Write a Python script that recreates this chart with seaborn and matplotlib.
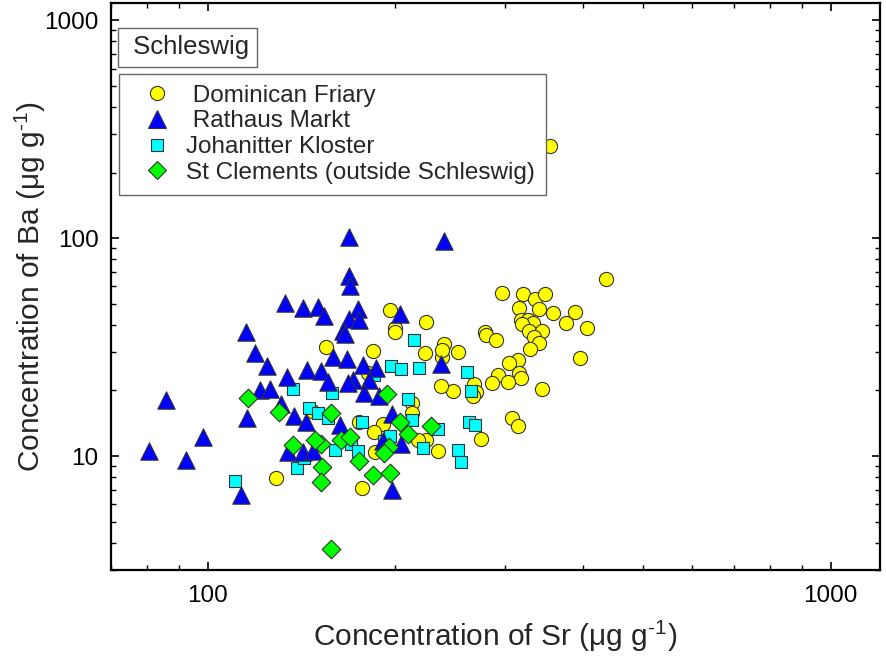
import pandas as pd
import matplotlib
matplotlib.use('Agg')
import matplotlib.pyplot as plt
import seaborn as sns
from matplotlib.lines import Line2D
from matplotlib.ticker import FuncFormatter, NullFormatter, LogLocator

# --- Setup ---
sns.set_style('ticks')
plt.rcParams['font.family'] = ['Liberation Sans', 'DejaVu Sans']
plt.rcParams['mathtext.fontset'] = 'custom'
plt.rcParams['mathtext.rm'] = 'Liberation Sans'

# --- Data (Sr and Ba in ug/g) ---
friary_sr = [354, 436, 297, 321, 336, 348, 340, 316, 358, 389,
             376, 406, 318, 327, 333, 320, 328, 344, 334, 341,
             329, 279, 280, 290, 396, 315, 305, 316, 318, 292,
             286, 303, 344, 308, 315, 275, 252, 240, 238, 248,
             237, 268, 270, 267, 196, 224, 200, 200, 238, 223,
             155, 184, 181, 234, 224, 213, 213, 191, 185, 175,
             218, 186, 177, 129, 147]
friary_ba = [266, 64.8, 56.3, 55.3, 52.8, 55.3, 47.5, 48.0, 45.1, 45.6,
             41.0, 38.8, 42.2, 42.2, 40.7, 40.3, 37.5, 37.5, 35.0, 32.9,
             31.1, 36.9, 35.8, 34.0, 28.1, 27.6, 26.7, 24.1, 22.7, 23.5,
             21.6, 21.9, 20.4, 14.9, 13.8, 12.0, 30.0, 32.6, 28.6, 19.9,
             21.0, 21.3, 19.6, 18.9, 46.9, 41.3, 38.8, 37.2, 30.7, 29.6,
             31.8, 30.2, 24.0, 10.6, 11.9, 17.5, 15.7, 14.0, 12.9, 14.3,
             11.9, 10.4, 7.1, 7.9, 16.1]

rathaus_sr = [80.5, 85.8, 92.2, 98.3, 115.8, 113.2, 115.4, 119, 124.6, 121.2,
              126, 132.9, 142.3, 150.6, 154, 134, 168.9, 239.6, 168.9, 169.5,
              174.1, 168.9, 175.2, 165, 166, 203.6, 159.2, 167.3, 177.3, 186.4,
              237.4, 144.6, 152.1, 156.3, 171, 168.3, 181.3, 178.4, 188.6, 131.2,
              137.9, 143.9, 163.4, 198, 134.4, 142.3, 147.4, 191.4, 204.5, 198]
rathaus_ba = [10.5, 18.0, 9.6, 12.2, 15.0, 6.6, 37, 29.8, 25.9, 20.1,
              20.3, 50.3, 48, 48.5, 43.7, 23.1, 100.7, 97, 67, 60.4,
              47.2, 42.5, 42.1, 37.5, 36.3, 44.8, 28.6, 27.8, 26.1, 25.4,
              26.4, 24.9, 24.6, 21.9, 22.3, 21.6, 22.3, 19.4, 18.9, 17.3,
              15.2, 14.4, 13.9, 15.6, 10.4, 10.4, 10.5, 11.7, 11.3, 7.0]

kloster_sr = [110.5, 214.6, 197.1, 204.6, 218.6, 185.2, 137, 158.6, 209.4, 145.4,
              150.6, 156.3, 212.5, 177, 192, 196, 234.7, 221.7, 160.3, 170,
              174.6, 139, 143, 260.5, 265.2, 262.4, 269, 252.7, 255]
kloster_ba = [7.7, 34, 25.9, 25, 25.4, 23.5, 20.4, 19.4, 18.2, 16.6,
              15.7, 14.9, 14.7, 14.3, 11.7, 12.3, 13.3, 10.9, 10.7, 11.4,
              10.6, 8.8, 9.8, 24.4, 19.9, 14.4, 13.9, 10.7, 9.4]

clements_sr = [116, 130, 137, 158.1, 194.3, 164, 152.1, 148.5, 204, 209.4,
               228.3, 195.7, 192.2, 175.2, 152.8, 184.3, 196.5, 152.1, 158.1, 169.5]
clements_ba = [18.4, 15.9, 11.2, 15.8, 19.2, 11.9, 11.3, 11.9, 14.3, 12.6,
               13.7, 11.0, 10.3, 9.5, 8.9, 8.2, 8.4, 7.6, 3.73, 12.2]

site_names = [' Dominican Friary', ' Rathaus Markt', 'Johanitter Kloster',
              'St Clements (outside Schleswig)']

# --- Build one long table ---
parts = [
    pd.DataFrame({'sr': friary_sr, 'ba': friary_ba, 'site': site_names[0]}),
    pd.DataFrame({'sr': rathaus_sr, 'ba': rathaus_ba, 'site': site_names[1]}),
    pd.DataFrame({'sr': kloster_sr, 'ba': kloster_ba, 'site': site_names[2]}),
    pd.DataFrame({'sr': clements_sr, 'ba': clements_ba, 'site': site_names[3]}),
]
df = pd.concat(parts, ignore_index=True)

# marker style per site: (marker, colour, size in pt)
styles = {
    site_names[0]: ('o', '#FFFF00', 10.2),
    site_names[1]: ('^', '#0000FF', 12.5),
    site_names[2]: ('s', '#00FFFF', 9.0),
    site_names[3]: ('D', '#00FF00', 9.5),
}
edge = '#333333'

fig = plt.figure(figsize=(8.86, 6.63), dpi=100)
ax = fig.add_axes([0.1253, 0.1403, 0.8679, 0.8552])

# drawing order: circles at the back, then squares, triangles, diamonds
for name in [site_names[0], site_names[2], site_names[1], site_names[3]]:
    m, c, ms = styles[name]
    sub = df[df['site'] == name]
    sns.scatterplot(data=sub, x='sr', y='ba', marker=m, color=c, s=ms ** 2,
                    edgecolor=edge, linewidth=0.8, ax=ax, legend=False, zorder=3)

ax.set_xscale('log')
ax.set_yscale('log')
ax.set_xlim(70, 1200)
ax.set_ylim(3, 1200)

fmt = FuncFormatter(lambda v, p: f'{v:g}')
for axis in (ax.xaxis, ax.yaxis):
    axis.set_major_locator(LogLocator(base=10))
    axis.set_minor_locator(LogLocator(base=10, subs=range(2, 10)))
    axis.set_major_formatter(fmt)
    axis.set_minor_formatter(NullFormatter())

ax.tick_params(which='both', direction='in', top=True, right=True,
               labelsize=17.5, colors='black', pad=9)
ax.tick_params(axis='x', which='major', pad=11)
ax.tick_params(which='major', length=6, width=1.2)
ax.tick_params(which='minor', length=3.5, width=1.0)
for sp in ax.spines.values():
    sp.set_linewidth(1.6)
    sp.set_color('black')

ax.set_xlabel('Concentration of Sr (μg g$^{\\mathregular{\u2010}1}$)', fontsize=21.5, labelpad=8)
ax.set_ylabel('Concentration of Ba (μg g$^{\\mathregular{\u2010}1}$)', fontsize=21.5, labelpad=-3)

# --- Site title box ---
ax.text(0.0196, 0.922, ' Schleswig', transform=ax.transAxes, fontsize=18.5,
        va='center', ha='left', zorder=5,
        bbox=dict(boxstyle='square,pad=0.3', facecolor='white',
                  edgecolor='#666666', linewidth=1.0))

# --- Legend in the reference order ---
handles = []
for name in site_names:
    m, c, ms = styles[name]
    handles.append(Line2D([], [], ls='', marker=m, markersize=ms,
                          markerfacecolor=c, markeredgecolor=edge,
                          markeredgewidth=0.8, label=name))
leg = ax.legend(handles=handles, loc='upper left', bbox_to_anchor=(0.0105, 0.875),
                fontsize=17.5, frameon=True, fancybox=False, framealpha=1,
                edgecolor='#666666', handlelength=2.2, handletextpad=0.1,
                labelspacing=0.15, borderpad=0.45, borderaxespad=0)
leg.get_frame().set_linewidth(1.0)

fig.savefig('out.png', dpi=100)
plt.close(fig)
